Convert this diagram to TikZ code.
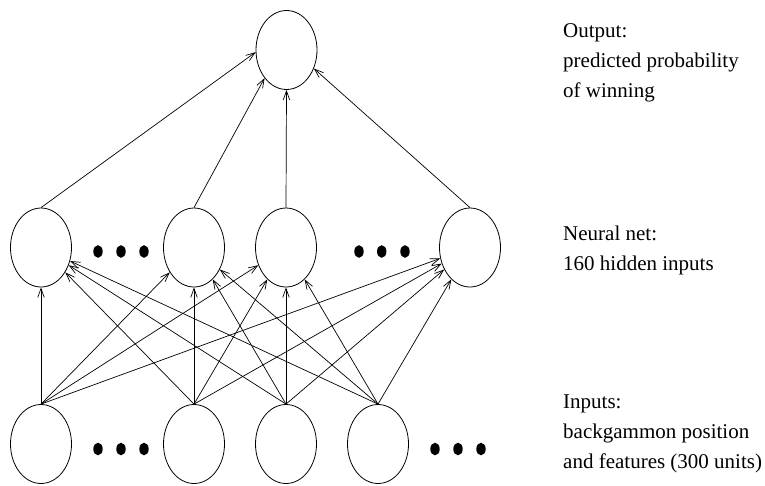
\documentclass[tikz,border=0pt]{standalone}
\usepackage{fontspec}
\setmainfont{Liberation Serif}
\usetikzlibrary{shapes.geometric,arrows.meta}
\begin{document}
\begin{tikzpicture}[x=1pt,y=-1pt,
  unit/.style={draw,ellipse,inner sep=0pt,minimum width=61pt,minimum height=79pt,line width=0.8pt},
  arr/.style={line width=0.7pt,-{Straight Barb[length=9pt,width=6.5pt,line width=0.7pt]}},
  lbl/.style={anchor=base west,inner sep=0pt,align=left,font=\fontsize{21}{29.6}\selectfont},
  dot/.style={fill=black}]
\useasboundingbox (0,0) rectangle (765,485);
% output
\node[unit] (top) at (286.5,50) {};
% hidden
\node[unit] (m1) at (41,247.5) {};
\node[unit] (m2) at (194,247.5) {};
\node[unit] (m3) at (286,247.5) {};
\node[unit] (m4) at (470,247.5) {};
% inputs
\node[unit] (b1) at (41,444) {};
\node[unit] (b2) at (194,444) {};
\node[unit] (b3) at (286,444) {};
\node[unit] (b4) at (378,444) {};
% dots
\foreach \x in {98,121,144,359,381.7,405} \fill[dot] (\x,251.5) ellipse [x radius=4.7pt,y radius=6.3pt];
\foreach \x in {98,121,144,435,458,481} \fill[dot] (\x,449) ellipse [x radius=4.7pt,y radius=6.3pt];
% hidden -> output
\draw[arr] (m1.north) -- (top.184);
\draw[arr] (m2.north) -- (top.232);
\draw[arr] (m3.north) -- (top.south);
\draw[arr] (m4.north) -- (top.-34);
% inputs -> hidden
\foreach \b in {b1,b2,b3,b4}
  \foreach \m in {m1,m2,m3,m4}
    \draw[arr] (\b.north) -- (\m);
% labels (base anchor = last line)
\node[lbl] (lout) at (563,97) {Output:\\predicted probability\\of winning};
\node[lbl] (lnet) at (563,270) {Neural net:\\160 hidden inputs};
\node[lbl] (lin) at (563,468) {Inputs:\\backgammon position\\and features (300 units)};
\end{tikzpicture}
\end{document}
